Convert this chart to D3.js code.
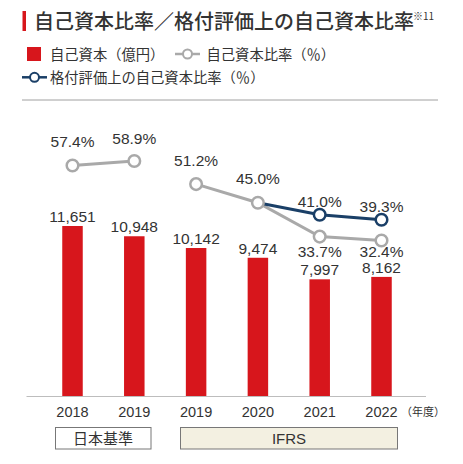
<!DOCTYPE html>
<html>
<head>
<meta charset="utf-8">
<script src="https://cdn.jsdelivr.net/npm/d3@7"></script>
<style>
  html, body { margin: 0; padding: 0; background: #fff; }
  svg { display: block; }
  .num { font-family: "Liberation Sans", Arial, sans-serif; fill: #333; }
  .jp { font-family: "Noto Sans CJK JP", sans-serif; fill: #333; }
</style>
</head>
<body>
<svg id="chart" width="463" height="464"></svg>
<script>
// Data
var categories = ["2018", "2019j", "2019", "2020", "2021", "2022"];
var yearLabels = ["2018", "2019", "2019", "2020", "2021", "2022"];
var equity = [11651, 10948, 10142, 9474, 7997, 8162];
// equity ratio, split by accounting standard (JGAAP / IFRS)
var ratioJgaap = [{ c: "2018", v: 57.4 }, { c: "2019j", v: 58.9 }];
var ratioIfrs = [{ c: "2019", v: 51.2 }, { c: "2020", v: 45.0 }, { c: "2021", v: 33.7 }, { c: "2022", v: 32.4 }];
// equity ratio on rating basis
var ratioRating = [{ c: "2020", v: 45.0 }, { c: "2021", v: 41.0 }, { c: "2022", v: 39.3 }];

var RED = "#d7161c", GRAY = "#a9a9a9", NAVY = "#1a3f67";

var svg = d3.select("#chart");

// Title
svg.append("rect").attr("x", 22.5).attr("y", 11).attr("width", 3.5).attr("height", 20).attr("fill", RED);
svg.append("text").attr("class", "jp").attr("x", 34).attr("y", 29)
  .style("font-size", "20px").style("font-weight", 500).text("自己資本比率／格付評価上の自己資本比率");
svg.append("text").attr("class", "jp").attr("x", 413).attr("y", 20)
  .style("font-size", "10px").text("※11");

// Legend
var lg = svg.append("g");
lg.append("rect").attr("x", 27).attr("y", 47).attr("width", 14).attr("height", 14).attr("fill", RED);
lg.append("text").attr("class", "jp").attr("x", 50).attr("y", 59.5)
  .style("font-size", "14.3px").text("自己資本（億円）");
lg.append("line").attr("x1", 175).attr("x2", 200).attr("y1", 54).attr("y2", 54)
  .attr("stroke", GRAY).attr("stroke-width", 2.5);
lg.append("circle").attr("cx", 187.5).attr("cy", 54).attr("r", 4.5)
  .attr("fill", "#fff").attr("stroke", GRAY).attr("stroke-width", 2);
lg.append("text").attr("class", "jp").attr("x", 206.5).attr("y", 59.5)
  .style("font-size", "14.3px").text("自己資本比率（％）");
lg.append("line").attr("x1", 22).attr("x2", 47).attr("y1", 77.3).attr("y2", 77.3)
  .attr("stroke", NAVY).attr("stroke-width", 2.5);
lg.append("circle").attr("cx", 34.5).attr("cy", 77.3).attr("r", 4.5)
  .attr("fill", "#fff").attr("stroke", NAVY).attr("stroke-width", 2);
lg.append("text").attr("class", "jp").attr("x", 50).attr("y", 82.8)
  .style("font-size", "14.3px").text("格付評価上の自己資本比率（％）");

svg.append("line").attr("x1", 22).attr("x2", 438).attr("y1", 100).attr("y2", 100)
  .attr("stroke", "#a0a0a0").attr("stroke-width", 1);

// Scales
var x = d3.scalePoint().domain(categories).range([72.5, 381.5]);
var yBar = d3.scaleLinear().domain([0, 12000]).range([396, 396 - 12000 * 170 / 11651]);
var yPct = d3.scaleLinear().domain([30, 60]).range([247.7, 157.7]);
var barW = 20.5;

// Bars
svg.selectAll(".bar").data(equity).enter().append("rect")
  .attr("class", "bar")
  .attr("x", (d, i) => x(categories[i]) - barW / 2)
  .attr("y", d => yBar(d))
  .attr("width", barW)
  .attr("height", d => yBar(0) - yBar(d))
  .attr("fill", RED);

svg.selectAll(".bar-label").data(equity).enter().append("text")
  .attr("class", "num")
  .attr("x", (d, i) => x(categories[i]))
  .attr("y", d => yBar(d) - 4)
  .attr("text-anchor", "middle")
  .style("font-size", "15.5px")
  .text(d => d3.format(",")(d));

// Baseline
svg.append("line").attr("x1", 26.5).attr("x2", 426).attr("y1", 396.5).attr("y2", 396.5)
  .attr("stroke", "#bdbdbd").attr("stroke-width", 1);

// X axis labels
svg.append("g").selectAll("text").data(categories).enter().append("text")
  .attr("class", "num")
  .attr("x", d => x(d))
  .attr("y", 417)
  .attr("text-anchor", "middle")
  .style("font-size", "14.5px")
  .text((d, i) => yearLabels[i]);
svg.append("text").attr("class", "jp").attr("x", 401).attr("y", 415.5)
  .style("font-size", "11px").text("（年度）");

// Lines
var line = d3.line().x(d => x(d.c)).y(d => yPct(d.v));
[ratioJgaap, ratioIfrs].forEach(function (s) {
  svg.append("path").datum(s).attr("d", line)
    .attr("fill", "none").attr("stroke", GRAY).attr("stroke-width", 3);
});
svg.append("path").datum(ratioRating).attr("d", line)
  .attr("fill", "none").attr("stroke", NAVY).attr("stroke-width", 3);

function dots(data, color) {
  svg.append("g").selectAll("circle").data(data).enter().append("circle")
    .attr("cx", d => x(d.c)).attr("cy", d => yPct(d.v)).attr("r", 5.8)
    .attr("fill", "#fff").attr("stroke", color).attr("stroke-width", 2.5);
}
dots(ratioRating.slice(1), NAVY);
dots(ratioJgaap, GRAY);
dots(ratioIfrs, GRAY);

// Percent labels (vertical offset from the point, label centre)
var grayLabelDy = [-24, -23, -24, -24, 14.5, 11];
var navyLabelDy = [-13.5, -13.5];
function pctLabels(data, dys) {
  svg.append("g").selectAll("text").data(data).enter().append("text")
    .attr("class", "num")
    .attr("x", d => x(d.c))
    .attr("y", (d, i) => yPct(d.v) + dys[i] + 5.5)
    .attr("text-anchor", "middle")
    .style("font-size", "15.5px")
    .text(d => d.v.toFixed(1) + "%");
}
pctLabels(ratioJgaap.concat(ratioIfrs), grayLabelDy);
pctLabels(ratioRating.slice(1), navyLabelDy);

// Accounting standard boxes
svg.append("rect").attr("x", 55.5).attr("y", 427.5).attr("width", 95.5).attr("height", 21.5)
  .attr("fill", "#fff").attr("stroke", "#777").attr("stroke-width", 1);
svg.append("text").attr("class", "jp").attr("x", 103).attr("y", 443.5)
  .attr("text-anchor", "middle").style("font-size", "15px").text("日本基準");
svg.append("rect").attr("x", 180.5).attr("y", 427.5).attr("width", 217).attr("height", 21.5)
  .attr("fill", "#f3f0e1").attr("stroke", "#777").attr("stroke-width", 1);
svg.append("text").attr("class", "num").attr("x", 289).attr("y", 443.5)
  .attr("text-anchor", "middle").style("font-size", "15px").text("IFRS");
</script>
</body>
</html>
